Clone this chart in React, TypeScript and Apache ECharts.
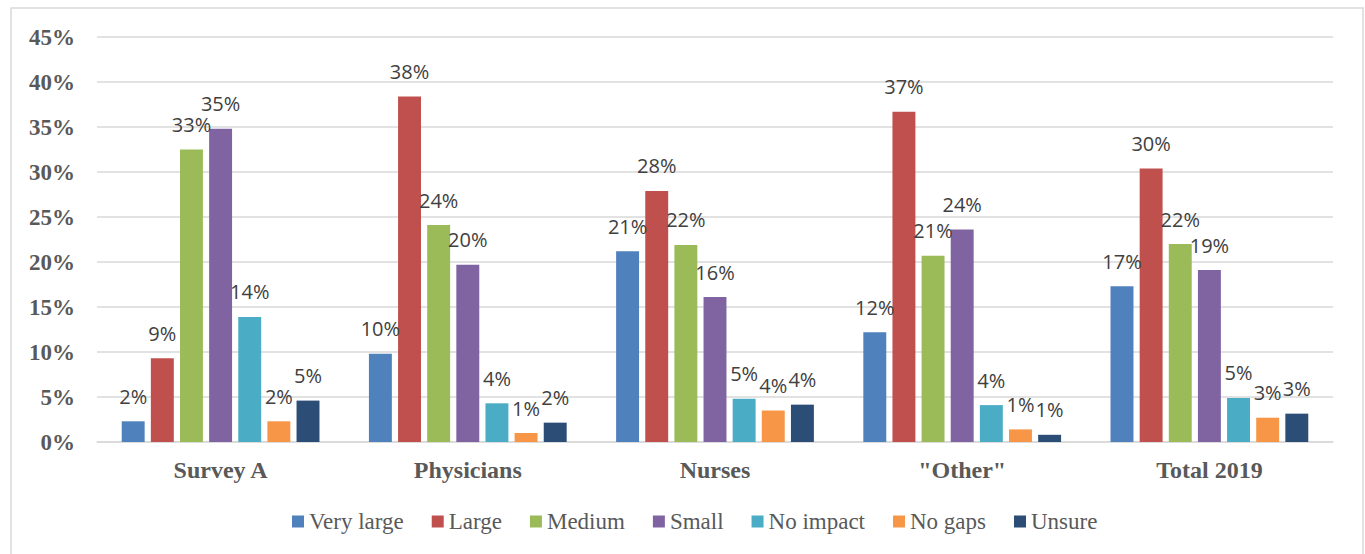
import React, { useEffect, useRef } from "react";
import * as echarts from "echarts";

// Groups along the x axis
const categories = ["Survey A", "Physicians", "Nurses", "\"Other\"", "Total 2019"];

// Share of respondents (%) per answer, one value per group
const veryLarge = [2.3, 9.8, 21.2, 12.2, 17.3];
const large = [9.3, 38.4, 27.9, 36.7, 30.4];
const medium = [32.5, 24.1, 21.9, 20.7, 22.0];
const small = [34.8, 19.7, 16.1, 23.6, 19.1];
const noImpact = [13.9, 4.3, 4.8, 4.1, 4.9];
const noGaps = [2.3, 1.0, 3.5, 1.4, 2.7];
const unsure = [4.6, 2.15, 4.15, 0.8, 3.15];

const seriesNames = ["Very large", "Large", "Medium", "Small", "No impact", "No gaps", "Unsure"];
const seriesValues = [veryLarge, large, medium, small, noImpact, noGaps, unsure];
const seriesColors = ["#4F81BD", "#C0504D", "#9BBB59", "#8064A2", "#4BACC6", "#F79646", "#2C4D75"];

// Value axis range (%)
const yMin = 0;
const yMax = 45;
const yStep = 5;

export default function App() {
  const ref = useRef<HTMLDivElement>(null);

  useEffect(() => {
    if (!ref.current) return;
    const chart = echarts.init(ref.current, null, { renderer: "svg" });
    const serif = "'Liberation Serif', 'Times New Roman', serif";

    chart.setOption({
      animation: false,
      backgroundColor: "#ffffff",
      graphic: [
        {
          type: "rect",
          shape: { x: 11, y: 8, width: 1352, height: 560 },
          style: { fill: "none", stroke: "#d9d9d9", lineWidth: 1.5 },
          silent: true,
          z: -1,
        },
      ],
      grid: { left: 97, right: 32, top: 37, bottom: 112, containLabel: false },
      legend: {
        left: 287,
        top: 505,
        itemWidth: 12,
        itemHeight: 12,
        itemGap: 28,
        icon: "rect",
        textStyle: { fontFamily: serif, fontSize: 23, color: "#595959" },
        data: seriesNames,
      },
      xAxis: {
        type: "category",
        data: categories,
        axisLine: { lineStyle: { color: "#d9d9d9", width: 1.5 } },
        axisTick: { show: false },
        axisLabel: {
          margin: 16,
          fontFamily: serif,
          fontSize: 24,
          fontWeight: "bold",
          color: "#595959",
        },
      },
      yAxis: {
        type: "value",
        min: yMin,
        max: yMax,
        interval: yStep,
        axisLine: { show: false },
        axisTick: { show: false },
        splitLine: { lineStyle: { color: "#d9d9d9", width: 1.5 } },
        axisLabel: {
          margin: 22,
          formatter: "{value}%",
          fontFamily: serif,
          fontSize: 23,
          fontWeight: "bold",
          color: "#595959",
        },
      },
      series: seriesNames.map((name, i) => ({
        name,
        type: "bar",
        data: seriesValues[i],
        barCategoryGap: "20%",
        barGap: "27%",
        itemStyle: { color: seriesColors[i] },
        label: {
          show: true,
          position: "top",
          distance: 15,
          fontFamily: "'Open Sans', 'Noto Sans', sans-serif",
          fontSize: 20,
          color: "#404040",
          formatter: (p: any) => `${Math.round(p.value)}%`,
        },
      })),
    });

    return () => chart.dispose();
  }, []);

  return (
    <div
      ref={ref}
      style={{ position: "fixed", left: 0, top: 0, width: 1365, height: 554, background: "#fff" }}
    />
  );
}
